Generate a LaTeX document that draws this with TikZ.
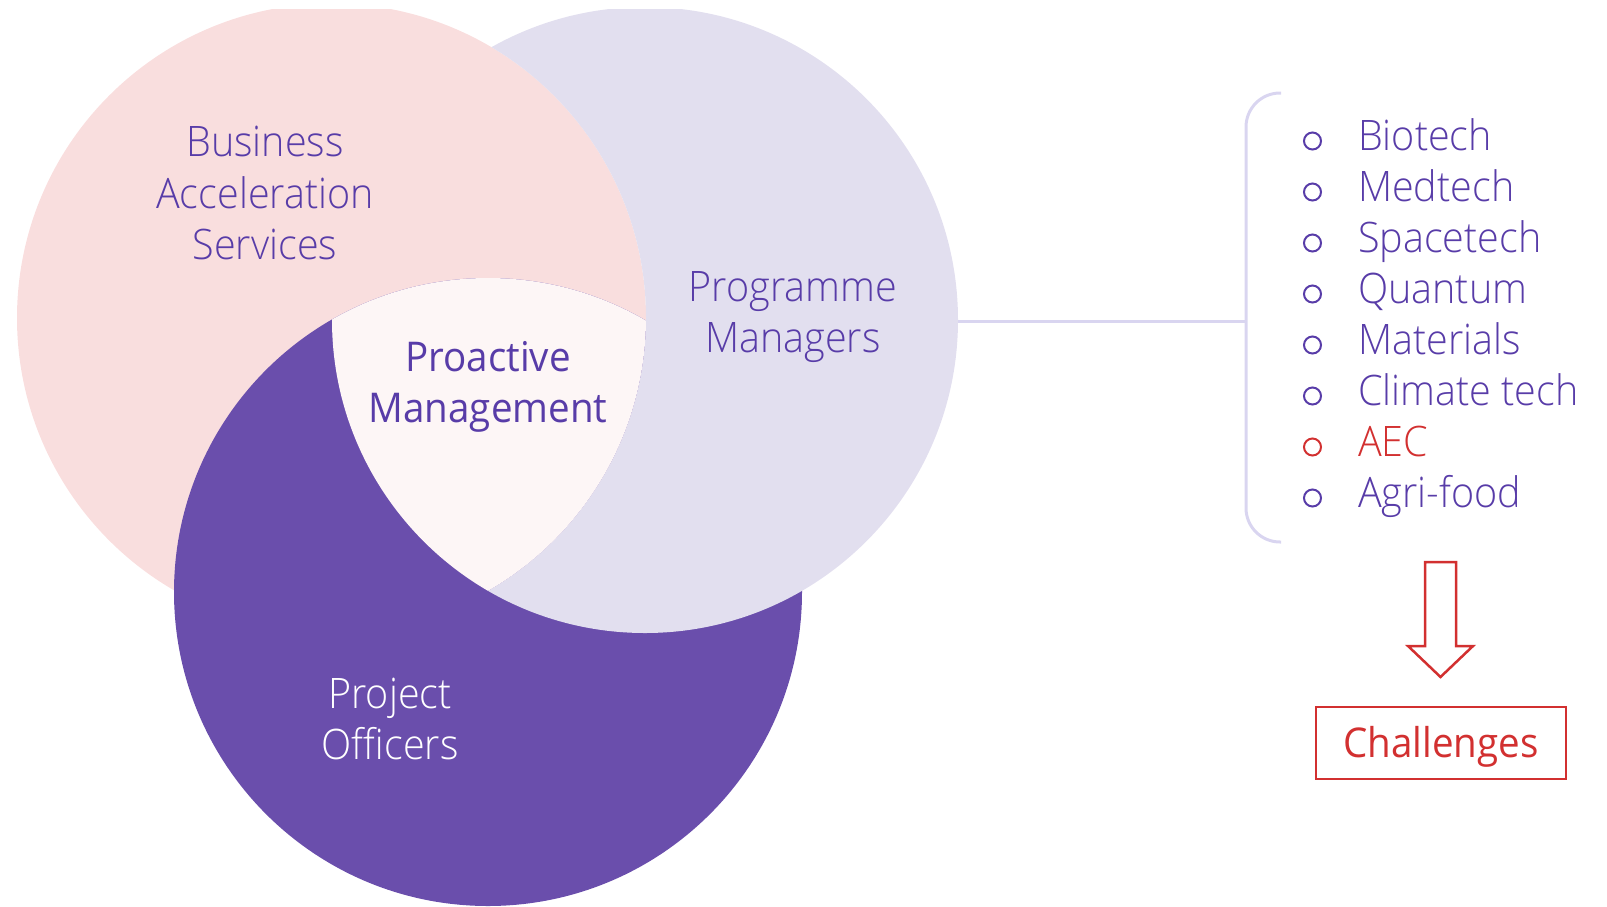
\documentclass[tikz,border=0pt]{standalone}
\usepackage{fontspec}
\IfFontExistsTF{Open Sans Light}{\setmainfont{Open Sans Light}[FakeStretch=0.94]}{\setmainfont{Open Sans}[FakeStretch=0.94]}
\newfontfamily\regfont{Open Sans}[FakeStretch=0.94]
\definecolor{pinkc}{RGB}{249,222,222}
\definecolor{lavc}{RGB}{226,223,239}
\definecolor{purc}{RGB}{106,78,172}
\definecolor{midc}{RGB}{253,246,246}
\definecolor{txtc}{RGB}{88,60,168}
\definecolor{redc}{RGB}{210,48,48}
\definecolor{linec}{RGB}{217,213,240}
\tikzset{
  vtxt/.style={anchor=base, inner sep=0pt, text=txtc, font=\fontsize{42}{51}\selectfont},
  wtxt/.style={vtxt, text=white},
  ctxt/.style={vtxt, font=\regfont\fontsize{41}{51}\selectfont},
  item/.style={anchor=base west, inner sep=0pt, text=txtc, font=\fontsize{42}{51}\selectfont},
  reditem/.style={item, text=redc},
  bul/.style={draw=txtc, line width=2pt},
  redbul/.style={draw=redc, line width=2pt},
  brline/.style={draw=linec, line width=3pt},
}
\begin{document}
\begin{tikzpicture}[x=1pt,y=-1pt]
\useasboundingbox (0,0) rectangle (1607,906);
\coordinate (P) at (331.5,318);
\coordinate (L) at (645,320);
\coordinate (U) at (488,592);
\begin{scope}
  \clip (0,9) rectangle (1607,906);
  \fill[pinkc] (P) circle[radius=314.5pt];
  \fill[purc] (U) circle[radius=314pt];
  \begin{scope}[even odd rule]
    \clip (P) circle[radius=314.5pt] (-50,-50) rectangle (1700,1000);
    \fill[lavc] (L) circle[radius=313pt];
  \end{scope}
  \begin{scope}
    \clip (P) circle[radius=314.5pt];
    \clip (L) circle[radius=313pt];
    \fill[midc] (U) circle[radius=314pt];
  \end{scope}
\end{scope}
% Venn labels
\node[vtxt] (b1) at (265,156) {Business};
\node[vtxt] (b2) at (265,208) {Acceleration};
\node[vtxt] (b3) at (265,259) {Services};
\node[vtxt] (m1) at (793,301) {Programme};
\node[vtxt] (m2) at (793,352) {Managers};
\node[ctxt] (c1) at (488,371) {Proactive};
\node[ctxt] (c2) at (488,422) {Management};
\node[wtxt] (o1) at (390,708) {Project};
\node[wtxt] (o2) at (390,759) {Officers};
% connector and bracket
\coordinate (lavE) at (958,321);
\coordinate (brkM) at (1246,321);
\coordinate (brkT) at (1281,93);
\coordinate (brkB) at (1281,542);
\draw[brline] (lavE) -- (brkM);
\draw[brline, rounded corners=34pt] (brkT) -- (1246,93) -- (1246,542) -- (brkB);
% list
\draw[bul] (1312.5,141) circle[radius=8.5pt];
\node[item] (i1) at (1358,150) {Biotech};
\draw[bul] (1312.5,192) circle[radius=8.5pt];
\node[item] (i2) at (1358,201) {Medtech};
\draw[bul] (1312.5,243) circle[radius=8.5pt];
\node[item] (i3) at (1358,252) {Spacetech};
\draw[bul] (1312.5,294) circle[radius=8.5pt];
\node[item] (i4) at (1358,303) {Quantum};
\draw[bul] (1312.5,345) circle[radius=8.5pt];
\node[item] (i5) at (1358,354) {Materials};
\draw[bul] (1312.5,396) circle[radius=8.5pt];
\node[item] (i6) at (1358,405) {Climate tech};
\draw[redbul] (1312.5,447) circle[radius=8.5pt];
\node[reditem] (i7) at (1358,456) {AEC};
\draw[bul] (1312.5,498) circle[radius=8.5pt];
\node[item] (i8) at (1358,507) {Agri-food};
% arrow
\draw[draw=redc, line width=2.5pt, line join=miter] (1425,562) -- (1456,562) -- (1456,646) -- (1473,646) -- (1440.5,677) -- (1408,646) -- (1425,646) -- cycle;
% challenges
\draw[draw=redc, line width=2.5pt] (1316,707) rectangle (1566,779);
\node[anchor=base, inner sep=0pt, text=redc, font=\regfont\fontsize{41}{51}\selectfont] (ch) at (1441,757) {Challenges};
\end{tikzpicture}
\end{document}
